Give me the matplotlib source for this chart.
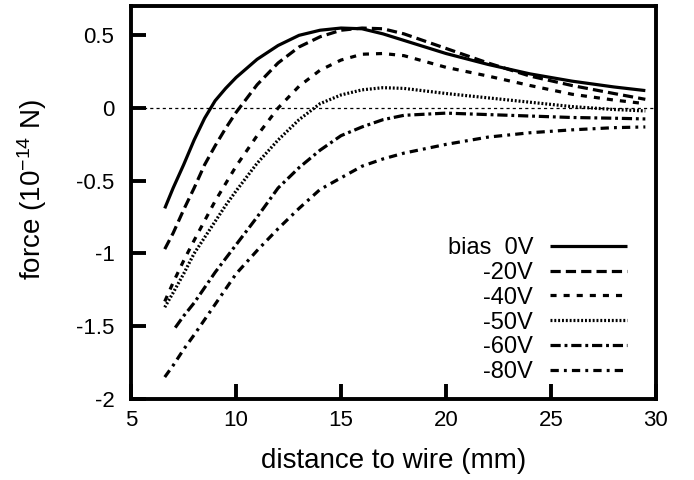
import matplotlib
matplotlib.use("Agg")
import matplotlib.pyplot as plt
import matplotlib.ticker as ticker

plt.rcParams["font.family"] = ["Liberation Sans", "DejaVu Sans"]
plt.rcParams["mathtext.default"] = "regular"
plt.rcParams["axes.unicode_minus"] = False

# ── Data ──────────────────────────────────────────────────────────────────────
X_FINE = [6.6, 7.0, 7.5, 8.0, 8.5, 9.0, 9.5, 10, 11, 12, 13, 14, 15, 16, 17, 18,
          20, 22, 24, 26, 28, 29.5]
F_0V = [-0.69, -0.55, -0.39, -0.22, -0.07, 0.05, 0.135, 0.21, 0.335, 0.43, 0.50, 0.535,
        0.55, 0.545, 0.51, 0.465, 0.375, 0.30, 0.235, 0.185, 0.145, 0.12]
F_20V = [-0.97, -0.86, -0.70, -0.55, -0.39, -0.26, -0.14, -0.03, 0.16, 0.31, 0.42, 0.49,
         0.535, 0.55, 0.545, 0.51, 0.41, 0.31, 0.22, 0.155, 0.10, 0.06]
X = [6.6, 7.0, 7.5, 8.0, 9.0, 9.5, 10, 11, 12, 13, 14, 15, 16, 17, 18, 20, 22, 24, 26, 28, 29.5]
F_40V = [-1.33, -1.20, -1.05, -0.91, -0.64, -0.52, -0.40, -0.19, 0.0, 0.15, 0.26, 0.33,
         0.37, 0.375, 0.36, 0.28, 0.22, 0.155, 0.095, 0.055, 0.03]
F_50V = [-1.37, -1.27, -1.14, -1.00, -0.78, -0.67, -0.57, -0.38, -0.22, -0.08, 0.03, 0.09,
         0.125, 0.14, 0.135, 0.10, 0.07, 0.04, 0.01, -0.01, -0.02]
X_60V = [7.1, 7.5, 8.0, 9.0, 10, 11, 12, 13, 14, 15, 16, 17, 18, 20, 22, 24, 26, 28, 29.5]
F_60V = [-1.51, -1.43, -1.34, -1.13, -0.94, -0.75, -0.55, -0.41, -0.29, -0.19, -0.13,
         -0.08, -0.05, -0.035, -0.045, -0.055, -0.065, -0.07, -0.075]
F_80V = [-1.85, -1.77, -1.66, -1.56, -1.35, -1.245, -1.14, -0.98, -0.83, -0.69, -0.56,
         -0.48, -0.40, -0.35, -0.31, -0.25, -0.20, -0.17, -0.15, -0.135, -0.13]

LABELS = ["bias  0V", "-20V", "-40V", "-50V", "-60V", "-80V"]
Y_TICKS = [-2, -1.5, -1, -0.5, 0, 0.5]
X_TICKS = [5, 10, 15, 20, 25, 30]

# ── Styles ────────────────────────────────────────────────────────────────────
LW = 2.3
DASHES = [
    None,
    (3.2, 1.6),
    (1.9, 2.2),
    (0.6, 0.6),
    (3.2, 1.2, 0.9, 1.2),
    (2.6, 1.6, 0.9, 1.6),
]

fig = plt.figure(figsize=(6.94, 4.80), dpi=100)
ax = fig.add_axes([0.189, 0.169, 0.756, 0.818])

series = [(X_FINE, F_0V), (X_FINE, F_20V), (X, F_40V), (X, F_50V), (X_60V, F_60V), (X, F_80V)]
for (xs, ys), lab, dash in zip(series, LABELS, DASHES):
    line, = ax.plot(xs, ys, color="black", linewidth=LW, label=lab,
                    solid_capstyle="butt", dash_capstyle="butt", solid_joinstyle="round")
    if dash is not None:
        line.set_dashes(dash)

ax.axhline(0, color="black", linewidth=0.9, linestyle=(0, (2.5, 2.5)), zorder=1)

ax.set_xlim(5, 30)
ax.set_ylim(-2, 0.7)
ax.set_xticks(X_TICKS)
ax.set_yticks(Y_TICKS)
ax.yaxis.set_major_formatter(ticker.FormatStrFormatter("%g"))
ax.xaxis.set_major_formatter(ticker.FormatStrFormatter("%g"))

for s in ax.spines.values():
    s.set_linewidth(2.8)
ax.tick_params(direction="in", length=11, width=2.8, labelsize=16)
ax.tick_params(axis="y", pad=12)
ax.tick_params(axis="x", pad=8)

ax.set_xlabel("distance to wire (mm)", fontsize=20, labelpad=12)
ax.set_ylabel("force (10$^{-14}$ N)", fontsize=20)
ax.yaxis.set_label_coords(-0.156, 0.532)

ax.legend(loc="lower right", bbox_to_anchor=(0.945, 0.04), frameon=False,
          markerfirst=False, fontsize=17, handlelength=3.25, handletextpad=0.72,
          labelspacing=0.12, borderpad=0, borderaxespad=0)

fig.savefig("out.png", dpi=100)
